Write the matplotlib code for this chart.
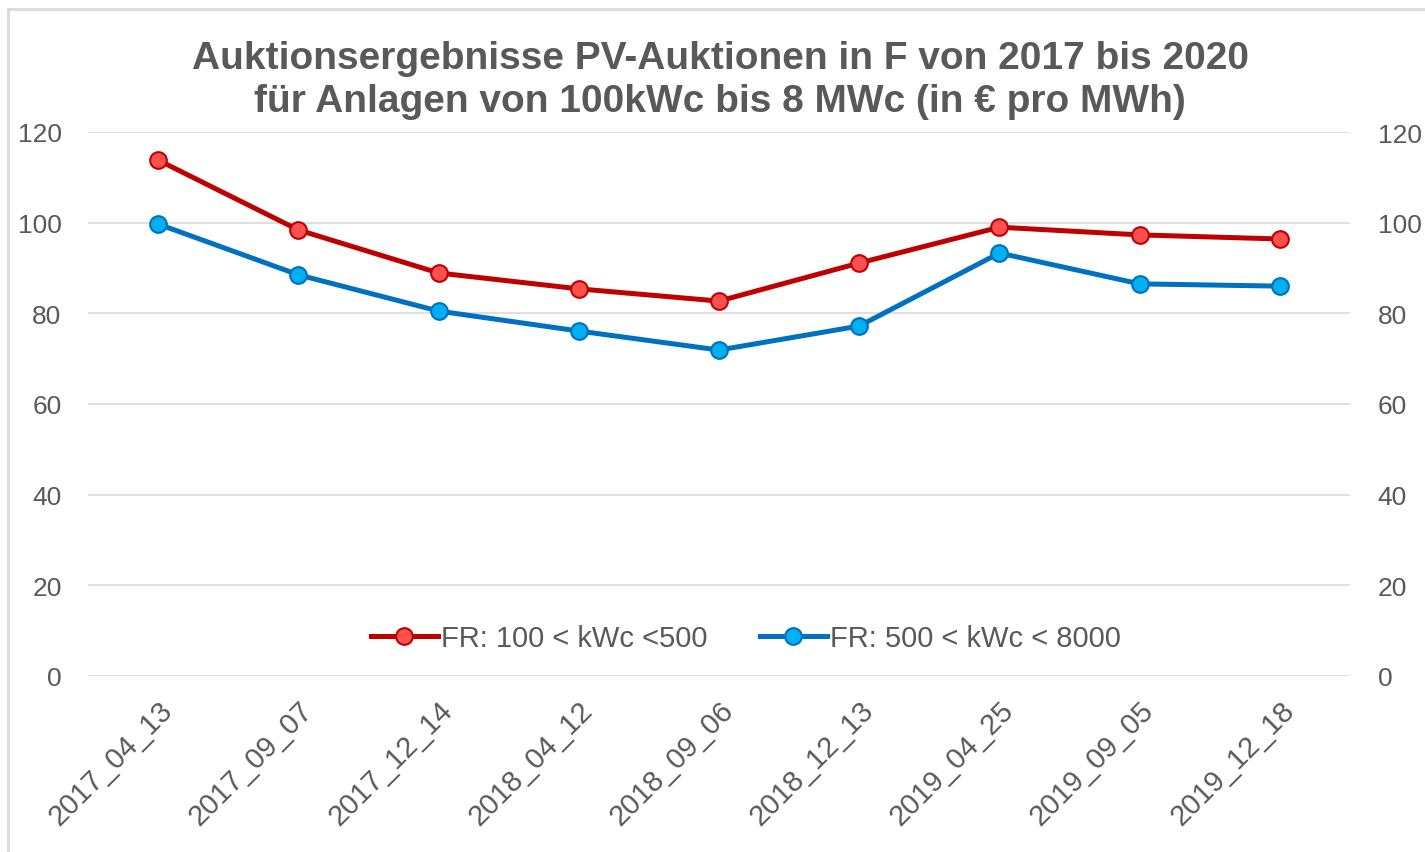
import matplotlib.pyplot as plt
from matplotlib.patches import Rectangle

plt.rcParams['font.family'] = ['Liberation Sans', 'DejaVu Sans']

dates = ['2017_04_13', '2017_09_07', '2017_12_14', '2018_04_12', '2018_09_06',
         '2018_12_13', '2019_04_25', '2019_09_05', '2019_12_18']
small = [113.8, 98.4, 88.9, 85.4, 82.7, 91.1, 99.0, 97.3, 96.4]
large = [99.7, 88.5, 80.5, 76.1, 71.9, 77.2, 93.3, 86.5, 86.0]
yticks = [0, 20, 40, 60, 80, 100, 120]

grey = '#595959'
fig = plt.figure(figsize=(14.25, 8.53), dpi=100)
ax = fig.add_axes([88 / 1425, 1 - 677 / 853, (1350 - 88) / 1425, (677 - 133) / 853])

x = range(len(dates))
ax.plot(x, small, color='#c00000', lw=3.6, marker='o', ms=12,
        mfc='#ff5050', mec='#c00000', mew=1.5, label='FR: 100 < kWc <500', zorder=3)
ax.plot(x, large, color='#0070c0', lw=3.6, marker='o', ms=12,
        mfc='#00b0f0', mec='#0070c0', mew=1.5, label='FR: 500 < kWc < 8000', zorder=3)

ax.set_xlim(-0.5, len(dates) - 0.5)
ax.set_ylim(0, 120)
ax.set_yticks(yticks)
ax.grid(axis='y', color='#d9d9d9', lw=1.2)
ax.set_axisbelow(True)
for s in ax.spines.values():
    s.set_visible(False)
ax.tick_params(length=0, colors=grey, labelsize=19)
ax.tick_params(axis='y', pad=19)
ax.set_xticks(list(x))
ax.set_xticklabels(dates, rotation=45, ha='right', rotation_mode='anchor')
ax.tick_params(axis='x', pad=14, labelsize=21)

ax2 = ax.twinx()
ax2.set_ylim(0, 120)
ax2.set_yticks(yticks)
for s in ax2.spines.values():
    s.set_visible(False)
ax2.tick_params(length=0, colors=grey, labelsize=19, pad=20)

ax.legend(loc='center', bbox_to_anchor=(0.521, 0.07), ncol=2, frameon=False,
          fontsize=21, labelcolor=grey, handlelength=2.3, handletextpad=0.1,
          columnspacing=1.8)

fig.suptitle('Auktionsergebnisse PV-Auktionen in F von 2017 bis 2020\n'
             'für Anlagen von 100kWc bis 8 MWc (in € pro MWh)',
             x=720 / 1425, y=1 - 41 / 853, va='top', fontsize=28,
             fontweight='bold', color=grey, linespacing=1.25)

fig.patches.append(Rectangle((8 / 1425, -0.1), 1.2, 1.1 - 10 / 853,
                             transform=fig.transFigure, fill=False,
                             edgecolor='#d9d9d9', lw=2))

fig.savefig('out.png', dpi=100)
